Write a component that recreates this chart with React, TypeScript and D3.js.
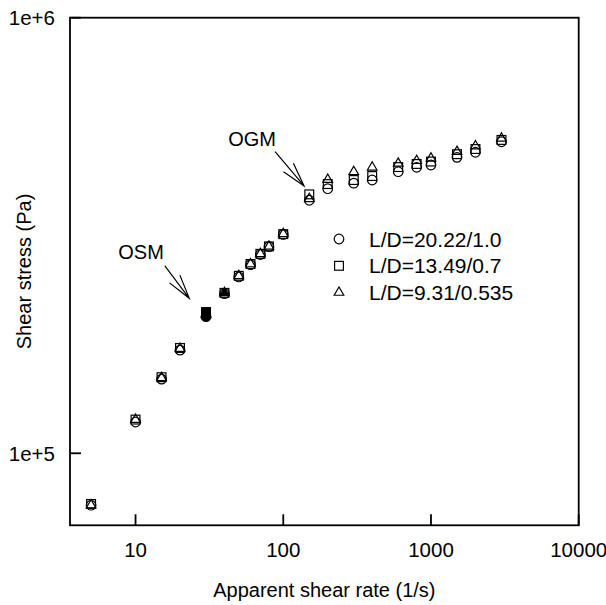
import React from 'react';
import * as d3 from 'd3';

// ---- data ----
const rates = [5, 10, 15, 20, 30, 40, 50, 60, 70, 80, 100, 150, 200, 300, 400, 600, 800, 1000, 1500, 2000, 3000];
const stressLD20 = [76000, 118000, 148000, 172500, 206000, 232500, 254000, 271000, 286000, 298000, 318000, 381000, 405000, 417000, 424000, 443000, 453500, 459000, 478000, 491000, 519000];
const stressLD13 = [76500, 119500, 149500, 174500, 211000, 233500, 255500, 272000, 287000, 298500, 318500, 393000, 415000, 424000, 433000, 454000, 461500, 467500, 486000, 499500, 524000];
const stressLD9 = [76000, 119500, 149000, 174000, 208000, 233500, 255500, 272000, 287000, 298500, 319000, 384000, 425000, 443000, 453500, 463000, 469500, 475500, 492500, 507500, 528500];
const filledLD20 = [30];
const filledLD13 = [30];
const filledLD9 = [30, 40];
const seriesNames = ['L/D=20.22/1.0', 'L/D=13.49/0.7', 'L/D=9.31/0.535'];

const xTicks = [10, 100, 1000, 10000];
const xTickLabels = ['10', '100', '1000', '10000'];
const yTicks = [1e5, 1e6];
const yTickLabels = ['1e+5', '1e+6'];
const xTitle = 'Apparent shear rate (1/s)';
const yTitle = 'Shear stress (Pa)';

const annotationLabels = ['OSM', 'OGM'];
const annotationTextAt = [[10.9, 289800], [61.5, 526700]];
const annotationArrowFrom = [[15.8, 269200], [88, 492500]];
const annotationArrowTo = [[23.1, 226900], [138.3, 410900]];

// ---- layout ----
const W = 606, H = 605;
const L = 70, R = 578.7, T = 17.7, B = 525.3;
const FONT = '"Liberation Sans", Arial, Helvetica, sans-serif';

const x = d3.scaleLog().domain([3.6, 10000]).range([L, R]);
const y = d3.scaleLog().domain([68340, 1e6]).range([B, T]);

type Shape = 'circle' | 'square' | 'triangle';

function Marker({ cx, cy, shape, filled }: { cx: number; cy: number; shape: Shape; filled: boolean }) {
  const fill = filled ? '#000' : 'none';
  const sw = 1.2;
  if (shape === 'circle') return <circle cx={cx} cy={cy} r={4.8} fill={fill} stroke="#000" strokeWidth={sw} />;
  if (shape === 'square') return <rect x={cx - 4.4} y={cy - 4.4} width={8.8} height={8.8} fill={fill} stroke="#000" strokeWidth={sw} />;
  const s = 9.6, rr = s / Math.sqrt(3);
  const p = d3.path();
  p.moveTo(cx, cy - rr);
  p.lineTo(cx + s / 2, cy + rr / 2);
  p.lineTo(cx - s / 2, cy + rr / 2);
  p.closePath();
  return <path d={p.toString()} fill={fill} stroke="#000" strokeWidth={sw} strokeLinejoin="miter" />;
}

const series: { values: number[]; filled: number[]; shape: Shape }[] = [
  { values: stressLD20, filled: filledLD20, shape: 'circle' },
  { values: stressLD13, filled: filledLD13, shape: 'square' },
  { values: stressLD9, filled: filledLD9, shape: 'triangle' },
];

function Arrow({ x1, y1, x2, y2 }: { x1: number; y1: number; x2: number; y2: number }) {
  const ang = Math.atan2(y2 - y1, x2 - x1);
  const len = 25, spread = (15 * Math.PI) / 180;
  const a1 = ang + Math.PI - spread, a2 = ang + Math.PI + spread;
  const p = d3.path();
  p.moveTo(x1, y1);
  p.lineTo(x2, y2);
  p.moveTo(x2 + len * Math.cos(a1), y2 + len * Math.sin(a1));
  p.lineTo(x2, y2);
  p.lineTo(x2 + len * Math.cos(a2), y2 + len * Math.sin(a2));
  return <path d={p.toString()} fill="none" stroke="#000" strokeWidth={1.2} />;
}

export default function App() {
  const legendY = [239, 265.8, 292.5];
  return (
    <svg width={W} height={H} style={{ position: 'absolute', left: 0, top: 0, background: '#fff' }} fontFamily={FONT}>
      <rect x={0} y={0} width={W} height={H} fill="#fff" />
      {/* frame */}
      <rect x={L} y={T} width={R - L} height={B - T} fill="none" stroke="#000" strokeWidth={1.8} />
      {/* x ticks */}
      {xTicks.map((t, i) => (
        <g key={'xt' + i}>
          <line x1={x(t)} x2={x(t)} y1={B} y2={B - 11} stroke="#000" strokeWidth={1.8} />
          <text x={x(t)} y={557} textAnchor="middle" fontSize={20.5}>{xTickLabels[i]}</text>
        </g>
      ))}
      {yTicks.map((t, i) => (
        <g key={'yt' + i}>
          <line x1={L} x2={L + 11} y1={y(t)} y2={y(t)} stroke="#000" strokeWidth={1.8} />
          <text x={55} y={y(t) + 7.3} textAnchor="end" fontSize={20.5}>{yTickLabels[i]}</text>
        </g>
      ))}
      <text x={(L + R) / 2} y={597} textAnchor="middle" fontSize={20}>{xTitle}</text>
      <text transform={`translate(31,${(T + B) / 2}) rotate(-90)`} textAnchor="middle" fontSize={20}>{yTitle}</text>

      {/* data */}
      {series.map((s, si) => (
        <g key={'s' + si}>
          {rates.map((r, i) => (
            <Marker key={i} cx={x(r)} cy={y(s.values[i])} shape={s.shape} filled={s.filled.includes(r)} />
          ))}
        </g>
      ))}

      {/* annotations */}
      {annotationLabels.map((lab, i) => (
        <g key={'a' + i}>
          <text x={x(annotationTextAt[i][0])} y={y(annotationTextAt[i][1]) + 7} textAnchor="middle" fontSize={20}>{lab}</text>
          <Arrow x1={x(annotationArrowFrom[i][0])} y1={y(annotationArrowFrom[i][1])} x2={x(annotationArrowTo[i][0])} y2={y(annotationArrowTo[i][1])} />
        </g>
      ))}

      {/* legend */}
      {series.map((s, i) => (
        <g key={'l' + i}>
          <Marker cx={339} cy={legendY[i]} shape={s.shape} filled={false} />
          <text x={369} y={legendY[i] + 7.5} fontSize={21}>{seriesNames[i]}</text>
        </g>
      ))}
    </svg>
  );
}
